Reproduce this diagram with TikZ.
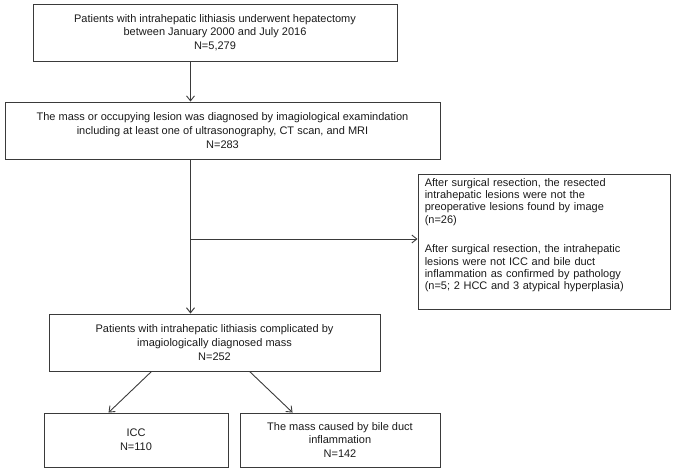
\documentclass[tikz,border=0pt]{standalone}
\usepackage{fontspec}
\setmainfont{Liberation Sans}
\usetikzlibrary{arrows.meta,calc}
\definecolor{lin}{HTML}{3A3A3A}
\definecolor{txt}{HTML}{1A1A1A}
\begin{document}
\begin{tikzpicture}[x=1pt,y=-1pt,
  box/.style={draw=lin,line width=0.9pt,inner sep=0pt,align=center,text=txt,
    font=\fontsize{11}{13.6}\selectfont},
  conn/.style={draw=lin,line width=0.9pt,-{Straight Barb[length=5pt,width=8pt]}},
  thick conn/.style={draw=lin,line width=1.7pt,-{Straight Barb[length=5pt,width=8pt,line width=1pt]}}]
\useasboundingbox (0,0) rectangle (673,470);
\node[box,minimum width=364pt,minimum height=57pt] (b1) at (215,32.5)
  {Patients with intrahepatic lithiasis underwent hepatectomy\\between January 2000 and July 2016\\N=5,279};
\node[box,minimum width=435pt,minimum height=57pt] (b2) at (222.5,130.5)
  {The mass or occupying lesion was diagnosed by imagiological examindation\\including at least one of ultrasonography, CT scan, and MRI\\N=283};
\node[box,minimum width=252pt,minimum height=135pt,
  label={[anchor=north west,align=left,inner sep=0pt,text=txt,text width=240pt,
    font=\fontsize{11}{12.3}\selectfont,xshift=7pt,yshift=-4.5pt]north west:%
    After surgical resection, the resected\\intrahepatic lesions were not the\\preoperative lesions found by image\\(n=26)\\[17.5pt]%
    After surgical resection, the intrahepatic\\lesions were not ICC and bile duct\\inflammation as confirmed by pathology\\(n=5; 2 HCC and 3 atypical hyperplasia)}] (rb) at (544,241.5) {};
\node[box,minimum width=331pt,minimum height=57pt] (b3) at (214.5,342.5)
  {Patients with intrahepatic lithiasis complicated by\\imagiologically diagnosed mass\\N=252};
\node[box,minimum width=184pt,minimum height=54pt] (icc) at (136,440)
  {ICC\\N=110};
\node[box,minimum width=200pt,minimum height=54pt] (bile) at (340,440)
  {The mass caused by bile duct\\inflammation\\N=142};
\coordinate (cx) at (190.5,0);
\coordinate (br) at (190.5,239);
\draw[conn] (b1.south -| cx) -- (b2.north -| cx);
\draw[thick conn] (b2.south -| cx) -- (b3.north -| cx);
\draw[conn] (br) -- (rb.west |- br);
\draw[conn] ($(b3.south west)+(103,0)$) -- ($(icc.north west)+(65,0)$);
\draw[conn] ($(b3.south west)+(201,0)$) -- ($(bile.north west)+(53,0)$);
\end{tikzpicture}
\end{document}
